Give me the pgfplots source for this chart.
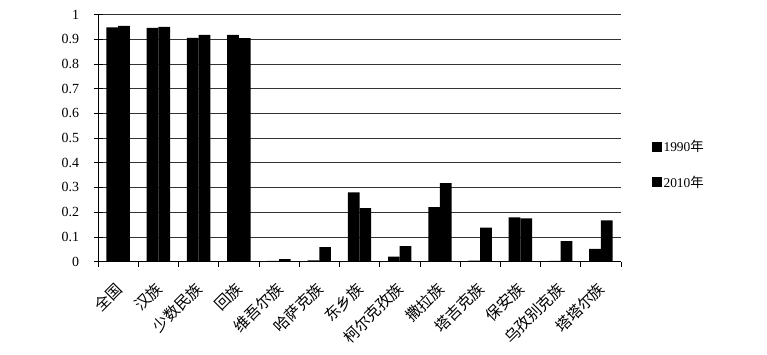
\documentclass[border=0pt]{standalone}
\usepackage{fontspec}
\setmainfont{Liberation Serif}
\newfontfamily\cjk{Noto Sans CJK SC}
\usepackage{pgfplots}
\pgfplotsset{compat=1.18}
\begin{document}
\begin{tikzpicture}
\path (0,0) rectangle (767bp,355bp);
\begin{axis}[
  at={(98bp,93.5bp)}, anchor=south west,
  scale only axis, width=523bp, height=247bp,
  ybar=0pt, bar width=11.7bp,
  xmin=-0.5, xmax=12.5, ymin=0, ymax=1,
  axis lines=left, axis line style={-, black, line width=0.8pt},
  ytick={0,0.1,0.2,0.3,0.4,0.5,0.6,0.7,0.8,0.9,1},
  yticklabel style={/pgf/number format/fixed, /pgf/number format/precision=1, font=\fontsize{14}{16}\selectfont, xshift=-11bp},
  /pgf/number format/assume math mode=true,
  xtick={0,...,12},
  xticklabels={全国,汉族,少数民族,回族,维吾尔族,哈萨克族,东乡族,柯尔克孜族,撒拉族,塔吉克族,保安族,乌孜别克族,塔塔尔族},
  xticklabel style={rotate=45, anchor=north east, font=\cjk\fontsize{15.5}{17}\selectfont, inner sep=1bp, xshift=-9.2bp, yshift=-3.2bp},
  major x tick style={draw=none},
  minor xtick={-0.5,0.5,...,12.5},
  xtick align=outside, ytick align=center,
  minor tick length=5bp, major tick length=9bp,
  tick style={black, line width=0.6pt},
  ymajorgrids, grid style={black!80, line width=0.6pt},
  legend style={at={(1.058,0.393)}, anchor=west, draw=none, fill=none, inner sep=0pt,
    row sep=19bp, font=\fontsize{13.5}{15}\selectfont, cells={anchor=west}},
  legend image code/.code={\fill[black] (0bp,-5bp) rectangle (10bp,5bp);},
]
\addplot[fill=black, draw=none] coordinates {
(0,0.948) (1,0.946) (2,0.905) (3,0.918) (4,0.003) (5,0.005) (6,0.280) (7,0.020) (8,0.220) (9,0.004) (10,0.179) (11,0.003) (12,0.051)};
\addplot[fill=black, draw=none] coordinates {
(0,0.954) (1,0.950) (2,0.918) (3,0.904) (4,0.010) (5,0.058) (6,0.216) (7,0.062) (8,0.317) (9,0.137) (10,0.175) (11,0.082) (12,0.167)};
\legend{1990{\cjk 年}, 2010{\cjk 年}}
\end{axis}
\end{tikzpicture}
\end{document}
